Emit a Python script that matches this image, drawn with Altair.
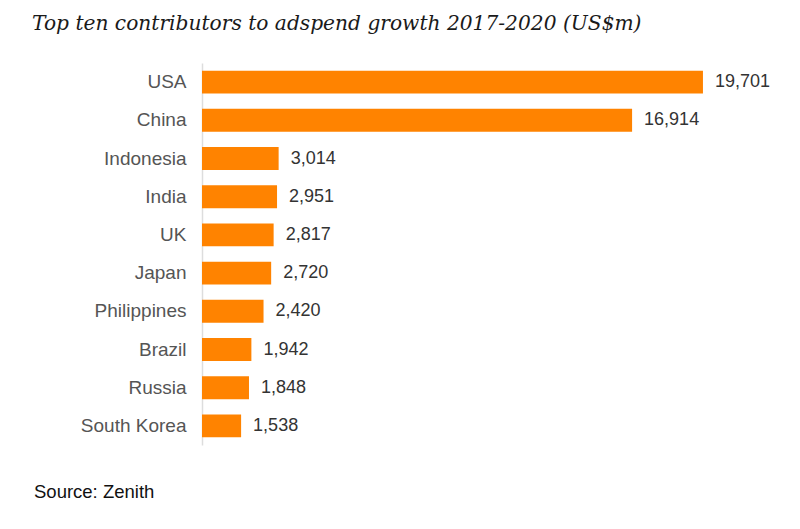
import altair as alt
import pandas as pd

countries = ["USA", "China", "Indonesia", "India", "UK", "Japan",
             "Philippines", "Brazil", "Russia", "South Korea"]
growth = [19701, 16914, 3014, 2951, 2817, 2720, 2420, 1942, 1848, 1538]

df = pd.DataFrame({"country": countries, "value": growth})

W, H = 520, 382

base = alt.Chart(df).encode(
    y=alt.Y("country:N", sort=countries,
            scale=alt.Scale(paddingInner=0.4, paddingOuter=0.2),
            axis=alt.Axis(title=None, ticks=False, labelPadding=16,
                          labelFontSize=19, labelColor="#555555",
                          labelFont="Liberation Sans",
                          domainColor="#dddddd", domainWidth=1.5)),
    x=alt.X("value:Q", scale=alt.Scale(domain=[0, 20450], nice=False),
            axis=None),
)

bars = base.mark_bar(color="#ff8300")
labels = base.mark_text(align="left", baseline="middle", dx=12,
                        fontSize=18, font="Liberation Sans",
                        color="#333333").encode(
    text=alt.Text("value:Q", format=",")
)

source = alt.Chart(pd.DataFrame({"t": ["Source: Zenith"]})).mark_text(
    align="left", baseline="middle", fontSize=18.5,
    font="Liberation Sans", color="#111111"
).encode(x=alt.value(-168), y=alt.value(429), text="t:N")

chart = alt.layer(bars, labels, source).properties(
    width=W, height=H,
    autosize=alt.AutoSizeParams(type="none"),
    padding={"left": 194, "top": 55, "right": 70, "bottom": 76},
    title=alt.TitleParams(
        "Top ten contributors to adspend growth 2017-2020 (US$m)",
        anchor="start", frame="group", dx=-170, offset=29,
        font="DejaVu Serif", fontStyle="italic", fontWeight="normal",
        fontSize=20.2, color="#1a1a1a"),
).configure_view(stroke=None)

chart.save("out.html", embed_options={"renderer": "svg", "actions": False})
